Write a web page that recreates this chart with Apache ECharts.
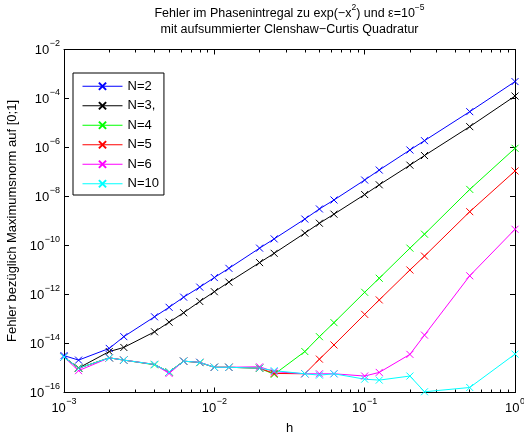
<!DOCTYPE html>
<html><head><meta charset="utf-8">
<script src="https://cdn.jsdelivr.net/npm/echarts@6/dist/echarts.min.js"></script>
<style>html,body{margin:0;padding:0;background:#fff}#c{width:524px;height:435px}</style>
</head><body><div id="c"></div>
<script>
// step sizes h
const h = [0.001, 0.00125, 0.002, 0.0025, 0.004, 0.005, 0.00625, 0.008, 0.01, 0.0125,
           0.02, 0.025, 0.04, 0.05, 0.0625, 0.1, 0.125, 0.2, 0.25, 0.5, 1];
const seriesNames = ['N=2', 'N=3,', 'N=4', 'N=5', 'N=6', 'N=10'];
const errN2 = [3.2e-15, 2.1e-15, 6.3e-15, 1.9e-14, 1.23e-13, 3.0e-13, 7.8e-13, 2.0e-12, 4.9e-12, 1.17e-11,
               7.8e-11, 1.86e-10, 1.2e-9, 3.1e-9, 7.2e-9, 4.7e-8, 1.2e-7, 7.9e-7, 1.9e-6, 2.9e-5, 4.9e-4];
const errN3 = [2.8e-15, 1.0e-15, 4.7e-15, 6.9e-15, 3.0e-14, 7.4e-14, 1.8e-13, 5.2e-13, 1.3e-12, 3.2e-12,
               2.0e-11, 4.8e-11, 3.2e-10, 8.1e-10, 1.9e-9, 1.2e-8, 3.0e-8, 1.9e-7, 4.7e-7, 7.1e-6, 1.26e-4];
const errN4 = [2.8e-15, 9.8e-16, 2.6e-15, 2.1e-15, 1.35e-15, 6.9e-16, 1.9e-15, 1.65e-15, 1.07e-15, 1.07e-15,
               9.8e-16, 5.5e-16, 4.7e-15, 1.9e-14, 7.1e-14, 1.23e-12, 4.6e-12, 7.8e-11, 2.9e-10, 1.95e-8, 9.3e-7];
const errN5 = [2.8e-15, 9.8e-16, 2.6e-15, 2.1e-15, 1.4e-15, 6.9e-16, 1.9e-15, 1.7e-15, 1.07e-15, 1.07e-15,
               9.8e-16, 6.0e-16, 5.8e-16, 2.3e-15, 8.7e-15, 1.55e-13, 6.0e-13, 1.0e-11, 3.7e-11, 2.4e-9, 1.1e-7];
const errN6 = [2.8e-15, 7.8e-16, 2.6e-15, 2.1e-15, 1.4e-15, 6.0e-16, 1.9e-15, 1.7e-15, 1.07e-15, 1.07e-15,
               1.12e-15, 7.1e-16, 5.8e-16, 5.8e-16, 5.8e-16, 4.7e-16, 6.6e-16, 3.6e-15, 2.2e-14, 5.8e-12, 4.6e-10];
const errN10 = [2.8e-15, 9.8e-16, 2.6e-15, 2.1e-15, 1.4e-15, 6.9e-16, 1.9e-15, 1.7e-15, 1.07e-15, 1.07e-15,
                9.8e-16, 7.8e-16, 5.8e-16, 5.1e-16, 5.8e-16, 3.5e-16, 3.2e-16, 4.7e-16, 1.07e-16, 1.6e-16, 3.7e-15];
const allErr = [errN2, errN3, errN4, errN5, errN6, errN10];
const colors = ['#0000ff', '#000000', '#00ff00', '#ff0000', '#ff00ff', '#00ffff'];
const xMinorTicks = [2e-3,3e-3,4e-3,5e-3,6e-3,7e-3,8e-3,9e-3,
                     2e-2,3e-2,4e-2,5e-2,6e-2,7e-2,8e-2,9e-2,
                     0.2,0.3,0.4,0.5,0.6,0.7,0.8,0.9];
const titleLine1 = ['Fehler im Phasenintregal zu exp(\u2212x', '2', ') und \u03b5=10', '\u22125'];
const titleLine2 = 'mit aufsummierter Clenshaw\u2212Curtis Quadratur';
const xName = 'h';
const yName = 'Fehler bez\u00fcglich Maximumsnorm auf [0;1]';

const FONT = 'Liberation Sans, Arial, Helvetica, sans-serif';
const expRich = {
  b: { fontSize: 13, padding: [4.5, 0, 2.5, 0], verticalAlign: 'top', fontFamily: FONT, color: '#000' },
  e: { fontSize: 9, padding: [0, 0, 0, 0.5], verticalAlign: 'top', fontFamily: FONT, color: '#000' }
};
function powLabel(v) {
  const ex = Math.round(Math.log10(v));
  const s = ex < 0 ? '\u2212' + (-ex) : String(ex);
  return '{b|10}{e|' + s + '}';
}
const black = { color: '#000', width: 1 };

const chart = echarts.init(document.getElementById('c'), null, { renderer: 'canvas' });
const series = allErr.map((vals, i) => ({
  name: seriesNames[i],
  type: 'line',
  xAxisIndex: 0, yAxisIndex: 0,
  data: h.map((x, j) => [x, vals[j]]),
  symbol: 'path://M0,0L10,10M10,0L0,10',
  symbolSize: 7,
  showSymbol: true,
  lineStyle: { color: colors[i], width: 1 },
  itemStyle: { color: colors[i], borderColor: colors[i], borderWidth: 1 },
  emphasis: { disabled: true },
  animation: false
}));

chart.setOption({
  animation: false,
  backgroundColor: '#fff',
  textStyle: { fontFamily: FONT },
  title: {
    left: 289.5, top: 3.5, padding: 0, textAlign: 'center',
    text: '{t|' + titleLine1[0] + '}{s|' + titleLine1[1] + '}{t|' + titleLine1[2] + '}{s|' + titleLine1[3] + '}\n{u|' + titleLine2 + '}',
    textStyle: {
      fontFamily: FONT, fontWeight: 'normal', fontSize: 12.5, color: '#000',
      rich: {
        t: { fontSize: 12.5, padding: [3.5, 0, 0, 0], verticalAlign: 'top', fontFamily: FONT, color: '#000' },
        s: { fontSize: 8.5, verticalAlign: 'top', fontFamily: FONT, color: '#000' },
        u: { fontSize: 12.5, padding: [3, 0, 0, 0], verticalAlign: 'top', fontFamily: FONT, color: '#000' }
      }
    }
  },
  legend: {
    orient: 'vertical', left: 73, top: 73,
    backgroundColor: '#fff', borderColor: '#000', borderWidth: 1, borderRadius: 0,
    padding: [6, 5, 4, 9],
    itemWidth: 40, itemHeight: 9, itemGap: 5,
    lineStyle: { width: 1 },
    textStyle: { fontFamily: FONT, fontSize: 13, color: '#000', lineHeight: 14.5 },
    data: seriesNames
  },
  grid: { left: 64, right: 9, top: 49.5, bottom: 42.5, containLabel: false, outerBoundsMode: 'none' },
  xAxis: [
    { type: 'log', logBase: 10, min: 1e-3, max: 1, interval: 1, position: 'bottom',
      axisLine: { show: true, lineStyle: black }, axisTick: { show: true, inside: true, length: 5, lineStyle: black },
      axisLabel: { show: true, margin: 5, formatter: powLabel, rich: expRich },
      splitLine: { show: false }, minorTick: { show: false },
      name: xName, nameLocation: 'middle', nameGap: 29.5,
      nameTextStyle: { fontFamily: FONT, fontSize: 13, color: '#000' } },
    { type: 'log', logBase: 10, min: 1e-3, max: 1, interval: 1, position: 'bottom',
      axisLine: { show: false }, axisTick: { show: true, inside: true, length: 3, lineStyle: black, customValues: xMinorTicks },
      axisLabel: { show: false }, splitLine: { show: false } },
    { type: 'log', logBase: 10, min: 1e-3, max: 1, interval: 1, position: 'top',
      axisLine: { show: true, lineStyle: black }, axisTick: { show: true, inside: true, length: 5, lineStyle: black },
      axisLabel: { show: false }, splitLine: { show: false } },
    { type: 'log', logBase: 10, min: 1e-3, max: 1, interval: 1, position: 'top',
      axisLine: { show: false }, axisTick: { show: true, inside: true, length: 3, lineStyle: black, customValues: xMinorTicks },
      axisLabel: { show: false }, splitLine: { show: false } }
  ],
  yAxis: [
    { type: 'log', logBase: 10, min: 1e-16, max: 1e-2, interval: 2, position: 'left',
      axisLine: { show: true, lineStyle: black }, axisTick: { show: true, inside: true, length: 5, lineStyle: black },
      axisLabel: { show: true, margin: 4, formatter: powLabel, rich: expRich },
      splitLine: { show: false },
      name: yName, nameLocation: 'middle', nameGap: 44, nameRotate: 90,
      nameTextStyle: { fontFamily: FONT, fontSize: 13, color: '#000' } },
    { type: 'log', logBase: 10, min: 1e-16, max: 1e-2, interval: 2, position: 'right',
      axisLine: { show: true, lineStyle: black }, axisTick: { show: true, inside: true, length: 5, lineStyle: black },
      axisLabel: { show: false }, splitLine: { show: false } }
  ],
  series: series
});
</script>
</body></html>
